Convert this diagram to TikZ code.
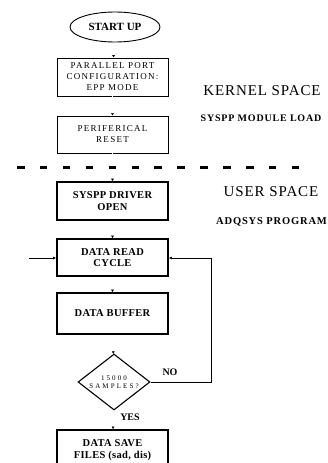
\documentclass[tikz,border=0pt]{standalone}
\usepackage{fontspec}
\setmainfont{Liberation Serif}
\usetikzlibrary{shapes.geometric,arrows.meta}
\tikzset{
  kbox/.style={draw=black, line width=0.9pt, rectangle, minimum width=111pt, align=center, inner sep=0pt},
  ubox/.style={draw=black, line width=1.8pt, rectangle, minimum width=111pt, align=center, inner sep=0pt},
  conn/.style={draw=white, -{Latex[black,length=2.5pt,width=3pt]}},
  link/.style={line width=0.8pt, -{Latex[length=3pt,width=3pt]}},
  lbl/.style={inner sep=0pt, anchor=center},
}
\newcommand{\boxtxt}{\fontsize{10.5}{11.5}\selectfont\bfseries\addfontfeatures{LetterSpace=3}}
\newcommand{\kertxt}{\fontsize{9}{11}\selectfont\addfontfeatures{LetterSpace=14}}
\begin{document}
\begin{tikzpicture}[x=1pt,y=-1pt]
\useasboundingbox (0,0) rectangle (328,463);
\node[draw, line width=0.9pt, ellipse, minimum width=90pt, minimum height=30pt, inner sep=0pt, font=\fontsize{11}{12}\selectfont\bfseries] (start) at (115,27) {START UP};
\node[kbox, minimum height=38pt, font=\kertxt] (pp) at (112.5,77) {PARALLEL PORT\\CONFIGURATION:\\EPP MODE};
\node[kbox, minimum height=37pt, font=\kertxt] (reset) at (112.5,134.5) {PERIFERICAL\\RESET};
\node[ubox, minimum height=38pt, font=\boxtxt] (driver) at (112.5,201) {SYSPP DRIVER\\OPEN};
\node[ubox, minimum height=37pt, font=\boxtxt] (read) at (112.5,257.5) {DATA READ\\CYCLE};
\node[ubox, minimum height=41pt, font=\boxtxt] (buffer) at (112.5,313.5) {DATA BUFFER};
\node[draw, line width=1.1pt, diamond, minimum width=72pt, minimum height=56pt, inner sep=0pt, aspect=1.3, align=center, font=\fontsize{7}{8}\selectfont\addfontfeatures{LetterSpace=30}] (dec) at (114,382) {15000\\SAMPLES?};
\node[ubox, minimum height=50pt, font=\boxtxt] (save) at (112.5,455) {DATA SAVE\\FILES (sad, dis)\\\mbox{}};

\node[lbl, font=\fontsize{15}{16}\selectfont\addfontfeatures{LetterSpace=6}] (kernel) at (262,91) {KERNEL SPACE};
\node[lbl, font=\fontsize{10}{10}\selectfont\bfseries\addfontfeatures{LetterSpace=8}] (module) at (261,118) {SYSPP MODULE LOAD};
\node[lbl, font=\fontsize{15}{16}\selectfont\addfontfeatures{LetterSpace=6}] (user) at (271,192) {USER SPACE};
\node[lbl, font=\fontsize{10.5}{11}\selectfont\bfseries\addfontfeatures{LetterSpace=8}, anchor=west] (adq) at (216,222) {ADQSYS PROGRAM};
\node[lbl, font=\fontsize{10}{11}\selectfont\bfseries] (no) at (170,372) {NO};
\node[lbl, font=\fontsize{10}{11}\selectfont\bfseries] (yes) at (130,417) {YES};

\draw[conn] (start) -- (pp);
\draw[conn] (pp) -- (reset);
\draw[conn] (reset) -- (driver);
\draw[conn] (driver) -- (read);
\draw[conn] (read) -- (buffer);
\draw[conn] (buffer) -- (dec);
\draw[conn] (dec) -- (save);

\coordinate (dl) at (17,167);
\coordinate (dr) at (300,167);
\draw[line width=3pt, dash pattern=on 7.5pt off 15.4pt] (dl) -- (dr);

\coordinate (in) at (29,258);
\draw[link] (in) -- (in -| read.west);
\coordinate (fb) at (211,382);
\draw[link] (dec.east) -- (fb) |- (read.east |- in);
\end{tikzpicture}
\end{document}
